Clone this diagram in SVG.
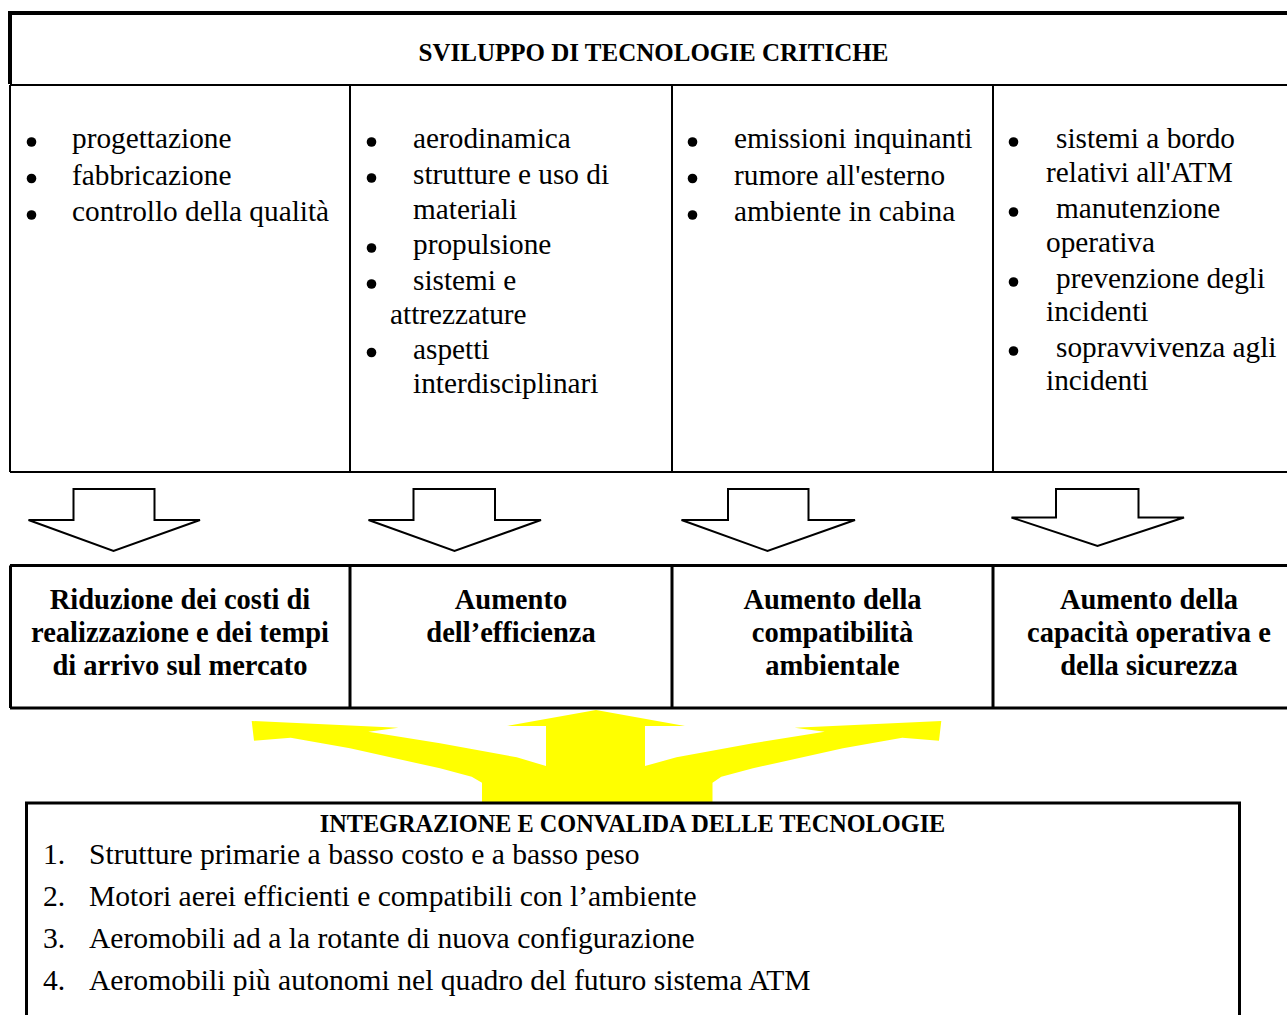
<svg xmlns="http://www.w3.org/2000/svg" width="1287" height="1015" viewBox="0 0 1287 1015">
  <style>
    text { font-family: "Liberation Serif", "Times New Roman", serif; fill: #000; }
    .item { font-size: 29.3px; }
    .list { font-size: 29.6px; }
    .goal { font-size: 28.5px; font-weight: bold; text-anchor: middle; }
    .head { font-weight: bold; text-anchor: middle; }
    .thin { fill: none; stroke: #000; stroke-width: 2; }
    .mid { fill: none; stroke: #000; stroke-width: 3; }
    .thick { fill: none; stroke: #000; stroke-width: 4; }
    .down { fill: #fff; stroke: #000; stroke-width: 2; stroke-linejoin: miter; }
    .dot { fill: #000; }
  </style>
  <rect width="1287" height="1015" fill="#fff"/>

  <!-- header box: heavy top and left edges -->
  <g id="header">
    <path class="thick" d="M10 84 V13 H1300"/>
    <text class="head" x="653.5" y="61" font-size="25">SVILUPPO DI TECNOLOGIE CRITICHE</text>
  </g>

  <!-- technology areas grid -->
  <g id="areas-grid">
    <path class="thin" d="M10 85 H1300 M10 472 H1300 M10 85 V472 M350 85 V472 M672 85 V472 M993 85 V472"/>
  </g>

  <g id="area-produzione">
    <circle class="dot" cx="31.5" cy="142" r="4.8"/>
    <circle class="dot" cx="31.5" cy="178.5" r="4.8"/>
    <circle class="dot" cx="31.5" cy="215" r="4.8"/>
    <text class="item" x="72" y="148">progettazione</text>
    <text class="item" x="72" y="184.5">fabbricazione</text>
    <text class="item" x="72" y="221">controllo della qualità</text>
  </g>

  <g id="area-efficienza">
    <circle class="dot" cx="371.5" cy="142" r="4.8"/>
    <circle class="dot" cx="371.5" cy="178" r="4.8"/>
    <circle class="dot" cx="371.5" cy="248" r="4.8"/>
    <circle class="dot" cx="371.5" cy="284" r="4.8"/>
    <circle class="dot" cx="371.5" cy="352.5" r="4.8"/>
    <text class="item" x="413" y="148">aerodinamica</text>
    <text class="item" x="413" y="184">strutture e uso di</text>
    <text class="item" x="413" y="219">materiali</text>
    <text class="item" x="413" y="254">propulsione</text>
    <text class="item" x="413" y="290">sistemi e</text>
    <text class="item" x="390" y="323.5">attrezzature</text>
    <text class="item" x="413" y="358.5">aspetti</text>
    <text class="item" x="413" y="393">interdisciplinari</text>
  </g>

  <g id="area-ambiente">
    <circle class="dot" cx="692.5" cy="142" r="4.8"/>
    <circle class="dot" cx="692.5" cy="178.5" r="4.8"/>
    <circle class="dot" cx="692.5" cy="215" r="4.8"/>
    <text class="item" x="734" y="148">emissioni inquinanti</text>
    <text class="item" x="734" y="184.5">rumore all'esterno</text>
    <text class="item" x="734" y="221">ambiente in cabina</text>
  </g>

  <g id="area-sicurezza">
    <circle class="dot" cx="1013.5" cy="142" r="4.8"/>
    <circle class="dot" cx="1013.5" cy="212" r="4.8"/>
    <circle class="dot" cx="1013.5" cy="282" r="4.8"/>
    <circle class="dot" cx="1013.5" cy="351" r="4.8"/>
    <text class="item" x="1056" y="148">sistemi a bordo</text>
    <text class="item" x="1046" y="182">relativi all'ATM</text>
    <text class="item" x="1056" y="218">manutenzione</text>
    <text class="item" x="1046" y="252">operativa</text>
    <text class="item" x="1056" y="288">prevenzione degli</text>
    <text class="item" x="1046" y="321">incidenti</text>
    <text class="item" x="1056" y="357">sopravvivenza agli</text>
    <text class="item" x="1046" y="390">incidenti</text>
  </g>

  <!-- block arrows from areas to goals, and the yellow integration arrow -->
  <g id="connectors">
    <path class="down" d="M73.5 489 H154.5 V520 H200 L113.5 551 L28.5 520 H73.5 Z"/>
    <path class="down" d="M413.5 489 H495 V520 H541 L454.5 551 L368.5 520 H413.5 Z"/>
    <path class="down" d="M728 489 H808.5 V520 H855 L767.5 551 L681.5 520 H728 Z"/>
    <path class="down" d="M1056 489 H1138.5 V517.5 H1184 L1097.5 546 L1011.5 517.5 H1056 Z"/>
    <path fill="#ffff00" d="M596 710 L685 726 H645 V766 L676.5 757.3 L753 743.3 L824.7 731.7 L794.7 727.7 L941.3 721 L939 740.7 L902.3 737.7 L843 748.3 L753 768.3 L721.3 776.7 L712.5 782.7 V804 H482 V782.7 L471.7 776.7 L440 768.3 L350 748.3 L290.7 737.7 L254 740.7 L251.7 721 L398.3 727.7 L368.3 731.7 L440 743.3 L516.7 757.3 L546 766 V726 H507 Z"/>
  </g>

  <!-- goals row -->
  <g id="goals-grid">
    <path class="mid" d="M10 565.5 H1300 M10 708 H1300 M10.5 565.5 V708 M350 565.5 V708 M672 565.5 V708 M993 565.5 V708"/>
  </g>

  <g id="goal-costi">
    <text class="goal" x="180" y="609">Riduzione dei costi di</text>
    <text class="goal" x="180" y="642">realizzazione e dei tempi</text>
    <text class="goal" x="180" y="675">di arrivo sul mercato</text>
  </g>

  <g id="goal-efficienza">
    <text class="goal" x="511" y="609">Aumento</text>
    <text class="goal" x="511" y="642">dell’efficienza</text>
  </g>

  <g id="goal-ambiente">
    <text class="goal" x="832.5" y="609">Aumento della</text>
    <text class="goal" x="832.5" y="642">compatibilità</text>
    <text class="goal" x="832.5" y="675">ambientale</text>
  </g>

  <g id="goal-sicurezza">
    <text class="goal" x="1149" y="609">Aumento della</text>
    <text class="goal" x="1149" y="642">capacità operativa e</text>
    <text class="goal" x="1149" y="675">della sicurezza</text>
  </g>

  <!-- integration and validation box -->
  <g id="integrazione">
    <path class="mid" d="M26.5 1020 V803 H1239.5 V1020"/>
    <text class="head" x="632.5" y="832" font-size="24.3">INTEGRAZIONE E CONVALIDA DELLE TECNOLOGIE</text>
    <text class="list" x="43" y="864">1.</text>
    <text class="list" x="89" y="864">Strutture primarie a basso costo e a basso peso</text>
    <text class="list" x="43" y="906">2.</text>
    <text class="list" x="89" y="906">Motori aerei efficienti e compatibili con l’ambiente</text>
    <text class="list" x="43" y="948">3.</text>
    <text class="list" x="89" y="948">Aeromobili ad a la rotante di nuova configurazione</text>
    <text class="list" x="43" y="990">4.</text>
    <text class="list" x="89" y="990">Aeromobili più autonomi nel quadro del futuro sistema ATM</text>
  </g>
</svg>
